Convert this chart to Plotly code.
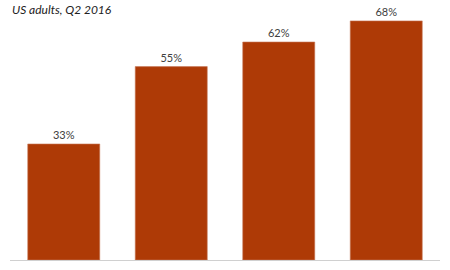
import plotly.graph_objects as go

categories = ["Group 1", "Group 2", "Group 3", "Group 4"]
values = [33, 55, 62, 68]
labels = ["33%", "55%", "62%", "68%"]
subtitle = "US adults, Q2 2016"

fig = go.Figure(go.Bar(
    x=categories, y=values, text=labels, textposition="outside",
    textfont=dict(family="Lato, Open Sans, sans-serif", size=11, color="#404040"),
    marker=dict(color="#AE3A06", line=dict(color="#C8795A", width=0.6)),
    cliponaxis=False,
))
fig.update_layout(
    width=450, height=270,
    margin=dict(l=10, r=10, t=10, b=10),
    paper_bgcolor="white", plot_bgcolor="white",
    bargap=0.33, showlegend=False,
    xaxis=dict(showticklabels=False, showgrid=False, zeroline=False,
               showline=True, linecolor="#D0D0D0", linewidth=1, ticks=""),
    yaxis=dict(range=[0, 71.1], visible=False),
    annotations=[dict(text=subtitle, xref="paper", yref="paper", x=0, y=1.04,
                      xanchor="left", yanchor="top", showarrow=False,
                      font=dict(family="Lato, Open Sans, sans-serif", size=12, color="#222222"),
                      )],
)
fig.update_annotations(font_style="italic")
fig.write_html("out.html")
